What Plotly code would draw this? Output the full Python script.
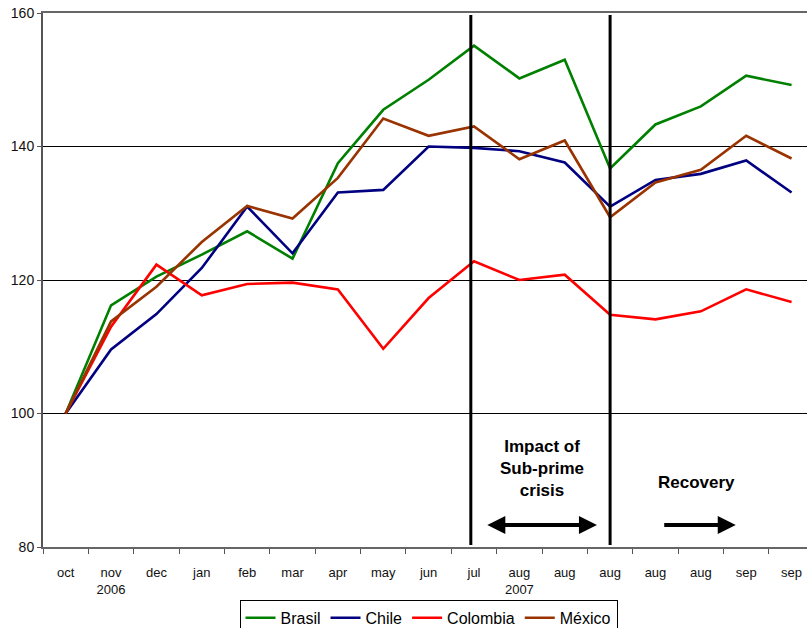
import plotly.graph_objects as go

months = ["oct", "nov<br>2006", "dec", "jan", "feb", "mar", "apr", "may", "jun",
          "jul", "aug<br>2007", "aug", "aug", "aug", "aug", "sep", "sep"]

brasil = [100, 116.2, 120.5, 123.8, 127.3, 123.2, 137.5, 145.5, 150.0, 155.1,
          150.2, 153.0, 136.7, 143.3, 146.0, 150.6, 149.2]
chile = [100, 109.6, 114.9, 121.8, 131.0, 124.0, 133.1, 133.5, 140.0, 139.8,
         139.3, 137.6, 131.0, 135.0, 135.9, 137.9, 133.1]
colombia = [100, 113.0, 122.3, 117.7, 119.4, 119.6, 118.6, 109.7, 117.3, 122.8,
            120.0, 120.8, 114.8, 114.1, 115.3, 118.6, 116.7]
mexico = [100, 113.8, 119.0, 125.7, 131.1, 129.2, 135.3, 144.2, 141.6, 143.0,
          138.1, 140.9, 129.4, 134.6, 136.5, 141.6, 138.2]

series = [("Brasil", brasil, "#008000"), ("Chile", chile, "#000080"),
          ("Colombia", colombia, "#FF0000"), ("México", mexico, "#993300")]

x = list(range(len(months)))

fig = go.Figure()
for name, vals, col in series:
    fig.add_trace(go.Scatter(x=x, y=vals, mode="lines", name=name,
                             line=dict(color=col, width=2.6)))

# crisis markers
for xv in [8.93, 12.0]:
    fig.add_shape(type="line", x0=xv, x1=xv, y0=80.3, y1=159.7,
                  xref="x", yref="y", line=dict(color="black", width=3))

txt_font = dict(family="Liberation Sans Narrow, Arial Narrow, Liberation Sans",
                size=17, color="black")
fig.add_annotation(x=10.5, y=91.8, text="<b>Impact of<br>Sub-prime<br>crisis</b>",
                   showarrow=False, font=txt_font)
fig.add_annotation(x=13.91, y=89.6, text="<b>Recovery</b>", showarrow=False, font=txt_font)

# arrows
fig.add_annotation(x=11.71, y=83.3, ax=9.26, ay=83.3, xref="x", yref="y",
                   axref="x", ayref="y", text="", showarrow=True,
                   arrowhead=2, startarrowhead=2, arrowside="end+start",
                   arrowsize=0.9, startarrowsize=0.9, arrowwidth=4, arrowcolor="black")
fig.add_annotation(x=14.77, y=83.3, ax=13.16, ay=83.3, xref="x", yref="y",
                   axref="x", ayref="y", text="", showarrow=True,
                   arrowhead=2, arrowsize=0.9, arrowwidth=4, arrowcolor="black")

fig.update_xaxes(range=[-0.5, 16.34], tickmode="array", tickvals=x, ticktext=months,
                 ticks="", ticklabelstandoff=12, automargin=False, ticklabeloverflow="allow",
                 minor=dict(tickmode="array", tickvals=[i - 0.5 for i in range(18)],
                            ticks="outside", ticklen=5, tickcolor="#555", showgrid=False),
                 showgrid=False, showline=True, linecolor="#666", linewidth=2, mirror=True,
                 tickfont=dict(size=13, color="#111"), zeroline=False)
fig.update_yaxes(range=[80, 160], tickvals=[80, 100, 120, 140, 160],
                 ticks="outside", ticklen=4, tickcolor="#555", automargin=False,
                 ticklabeloverflow="allow",
                 showgrid=True, gridcolor="black", gridwidth=1,
                 showline=True, linecolor="#555", linewidth=2,
                 tickfont=dict(size=14, color="#111"), zeroline=False)

fig.update_layout(
    width=807, height=628,
    margin=dict(l=43, r=0, t=13, b=81, autoexpand=False),
    plot_bgcolor="white", paper_bgcolor="white",
    font=dict(family="Liberation Sans, Arial", color="black"),
    showlegend=True,
    legend=dict(orientation="h", x=0.5046, xanchor="center", y=-0.099, yanchor="top",
                bordercolor="black", borderwidth=1, font=dict(size=16),
                itemwidth=30, tracegroupgap=0),
)

# drop the browser's default 8px body margin so the page is exactly the figure
fig.write_html("out.html", config={"displayModeBar": False},
               post_script="document.body.style.margin = '0'; document.body.style.overflow = 'hidden';")
